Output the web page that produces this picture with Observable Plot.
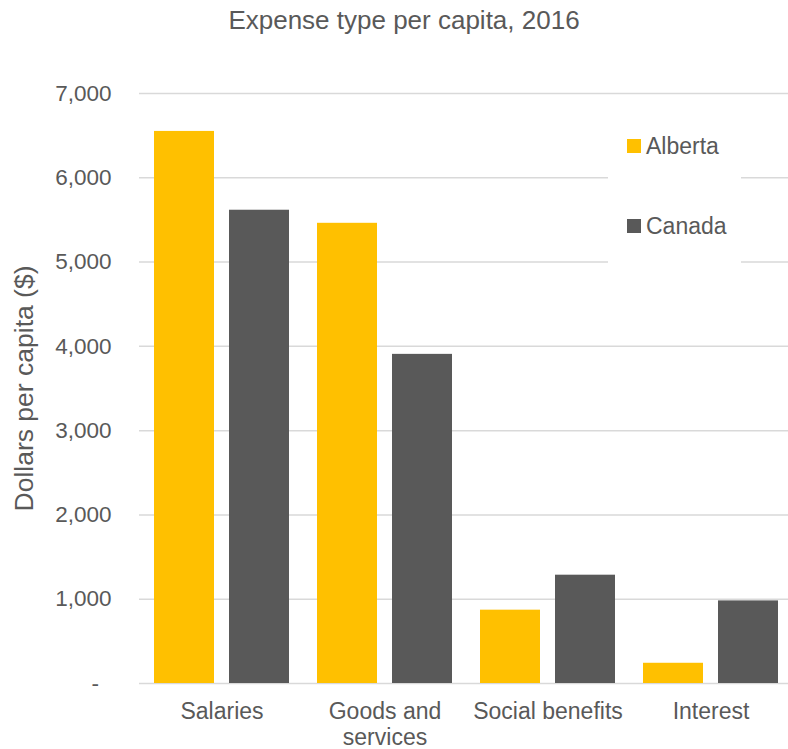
<!DOCTYPE html>
<html><head><meta charset="utf-8">
<script src="https://cdn.jsdelivr.net/npm/d3@7"></script>
<script src="https://cdn.jsdelivr.net/npm/@observablehq/plot@0.6"></script>
<style>
html,body{margin:0;padding:0;background:#fff;overflow:hidden;}
body{font-family:"Liberation Sans",Arial,sans-serif;color:#595959;width:788px;height:749px;position:relative;}
#title{position:absolute;left:0;top:0;width:808px;text-align:center;font-size:26px;line-height:40px;}
#grid,#chart{position:absolute;left:0;top:40px;width:794px;height:709px;}
#grid svg,#chart svg{max-width:none !important;width:794px !important;height:709px !important;display:block;}
#legend{position:absolute;left:608px;top:115px;width:133px;height:160px;background:#fff;}
.item{position:absolute;left:19px;height:28px;display:flex;align-items:center;font-size:23px;}
.sw{width:14px;height:14px;margin-right:5px;}
</style></head><body>
<div id="title"></div>
<div id="grid"></div>
<div id="chart"></div>
<div id="legend"></div>
<script>
const chartTitle = "Expense type per capita, 2016";
const categories = ["Salaries", "Goods and services", "Social benefits", "Interest"];
const categoryLabels = ["Salaries", "Goods and\nservices", "Social benefits", "Interest"];
const seriesNames = ["Alberta", "Canada"];
const seriesColors = ["#FFC000", "#595959"];
const albertaValues = [6550, 5460, 870, 240];
const canadaValues = [5615, 3905, 1285, 980];
const yTicks = [0, 1000, 2000, 3000, 4000, 5000, 6000, 7000];
const yLabel = "Dollars per capita ($)";

document.getElementById("title").textContent = chartTitle;

const data = categories.flatMap((c, i) => [
  {category: c, series: seriesNames[0], value: albertaValues[i]},
  {category: c, series: seriesNames[1], value: canadaValues[i]}
]);

const W = 794, H = 709;
const M = {marginLeft: 139, marginRight: 0, marginTop: 53, marginBottom: 66};
const style = {fontFamily: "Liberation Sans, Arial, sans-serif", color: "#595959", background: "transparent", overflow: "visible", maxWidth: "none"};
const fmt = d3.format(",");

// background: gridlines, y axis and its title
const grid = Plot.plot({
  width: W, height: H, ...M, style,
  y: {domain: [0, 7000]},
  marks: [
    Plot.ruleY(yTicks, {stroke: "#d9d9d9", strokeWidth: 1.5}),
    Plot.axisY(yTicks, {tickSize: 0, tickPadding: 28, fontSize: 22.5,
      tickFormat: d => d === 0 ? "-\u00a0\u00a0" : fmt(d), label: null}),
    Plot.text([yLabel], {frameAnchor: "left", textAnchor: "middle", rotate: -90, dx: -115, fontSize: 26.5, fill: "#595959"})
  ]
});
document.getElementById("grid").appendChild(grid);

// foreground: bars and category axis
const chart = Plot.plot({
  width: W, height: H, ...M, style,
  fx: {domain: categories, paddingInner: 0.17, paddingOuter: 0.085, label: null},
  x: {domain: seriesNames, paddingInner: 0.2, paddingOuter: 0, axis: null},
  y: {domain: [0, 7000], axis: null},
  color: {domain: seriesNames, range: seriesColors},
  marks: [
    Plot.barY(data, {fx: "category", x: "series", y: "value", fill: "series"}),
    Plot.axisFx({anchor: "bottom", tickSize: 0, tickPadding: 17, fontSize: 23, lineHeight: 1.13,
      tickFormat: d => categoryLabels[categories.indexOf(d)], label: null})
  ]
});
document.getElementById("chart").appendChild(chart);

const legend = document.getElementById("legend");
const itemTops = [17, 97];
seriesNames.forEach((name, i) => {
  const item = document.createElement("div");
  item.className = "item";
  item.style.top = itemTops[i] + "px";
  const sw = document.createElement("div");
  sw.className = "sw";
  sw.style.background = seriesColors[i];
  const label = document.createElement("span");
  label.textContent = name;
  item.appendChild(sw);
  item.appendChild(label);
  legend.appendChild(item);
});
</script>
</body></html>
